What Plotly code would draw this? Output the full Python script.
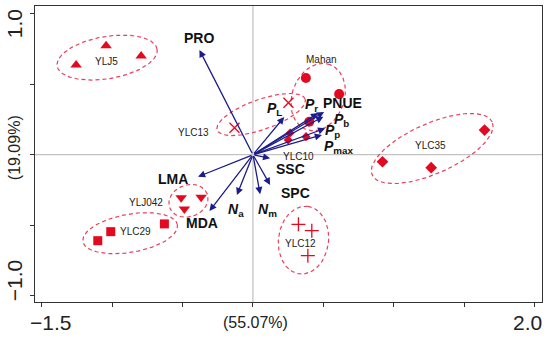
import numpy as np
import plotly.graph_objects as go

# ---------------- data ----------------
# sample scores (PC1, PC2)
ylj5_x = [-1.256, -1.043, -0.794]
ylj5_y = [0.636, 0.773, 0.700]
ylc13_x = [-0.131, 0.252]
ylc13_y = [0.191, 0.369]
mahan_x = [0.376, 0.612, 0.400]
mahan_y = [0.544, 0.430, 0.234]
ylc10_x = [0.250, 0.264, 0.377]
ylc10_y = [0.104, 0.154, 0.128]
ylc35_x = [1.645, 0.920, 1.266]
ylc35_y = [0.175, -0.050, -0.092]
ylc12_x = [0.323, 0.418, 0.390]
ylc12_y = [-0.494, -0.539, -0.716]
ylj042_x = [-0.510, -0.368, -0.487]
ylj042_y = [-0.305, -0.302, -0.385]
ylc29_x = [-1.102, -1.010, -0.629]
ylc29_y = [-0.610, -0.546, -0.491]

# group labels
group_names = ["YLJ5", "YLC13", "Mahan", "YLC10", "YLC35", "YLC12", "YLJ042", "YLC29"]
group_lx = [-1.043, -0.425, 0.490, 0.323, 1.259, 0.335, -0.761, -0.837]
group_ly = [0.660, 0.156, 0.677, -0.012, 0.064, -0.628, -0.338, -0.546]

# group ellipses (centre, semi-axes, angle in degrees)
ell_cx = [-1.036, 0.058, 0.463, 1.273, 0.359, -0.458, -0.872]
ell_cy = [0.689, 0.285, 0.409, 0.044, -0.606, -0.327, -0.557]
ell_a = [0.360, 0.331, 0.245, 0.466, 0.241, 0.142, 0.341]
ell_b = [0.150, 0.107, 0.185, 0.178, 0.178, 0.112, 0.135]
ell_ang = [9.6, 19.4, 70.0, 23.8, 83.0, 20.0, 10.0]

# variable loadings (arrow tips)
var_names = ["PRO", "P_L", "P_r", "PNUE", "P_b", "P_p", "P_max",
             "SSC", "SPC", "N_m", "N_a", "MDA", "LMA"]
var_x = [-0.380, 0.222, 0.463, 0.505, 0.500, 0.513, 0.490,
         0.122, 0.122, 0.051, -0.114, -0.309, -0.390]
var_y = [0.743, 0.267, 0.295, 0.303, 0.270, 0.187, 0.140,
         -0.026, -0.215, -0.280, -0.286, -0.400, -0.156]
var_text = ["<b>PRO</b>", "<b><i>P</i></b><sub><b>L</b></sub>",
            "<b><i>P</i></b><sub><b>r</b></sub>", "<b>PNUE</b>",
            "<b><i>P</i></b><sub><b>b</b></sub>", "<b><i>P</i></b><sub><b>p</b></sub>",
            "<b><i>P</i></b><sub><b>max</b></sub>", "<b>SSC</b>", "<b>SPC</b>",
            "<b><i>N</i></b><sub><b>m</b></sub>", "<b><i>N</i></b><sub><b>a</b></sub>",
            "<b>MDA</b>", "<b>LMA</b>"]
var_lx = [-0.380, 0.150, 0.418, 0.635, 0.630, 0.566, 0.612,
          0.264, 0.300, 0.105, -0.120, -0.363, -0.565]
var_ly = [0.826, 0.325, 0.355, 0.365, 0.245, 0.168, 0.055,
          -0.104, -0.274, -0.392, -0.392, -0.482, -0.172]

x_tick_vals = [-1.5, -1.0, -0.5, 0.0, 0.5, 1.0, 1.5, 2.0]
y_tick_vals = [-1.0, -0.5, 0.0, 0.5, 1.0]
x_title = "(55.07%)"
y_title = "(19.09%)"

# ---------------- styling ----------------
RED = "#e3091f"
ELL = "#e8405c"
NAVY = "#1c1c8c"
FONT = "Liberation Sans, Arial, sans-serif"

fig = go.Figure()

# reference lines
fig.add_shape(type="line", x0=0, x1=0, y0=0, y1=1, xref="x", yref="paper",
              line=dict(color="#b4b4b4", width=1), layer="below")
fig.add_shape(type="line", x0=0, x1=1, y0=0, y1=0, xref="paper", yref="y",
              line=dict(color="#b4b4b4", width=1), layer="below")

# ellipses
t = np.linspace(0, 2 * np.pi, 120)
for cx, cy, a, b, ang in zip(ell_cx, ell_cy, ell_a, ell_b, ell_ang):
    th = np.deg2rad(ang)
    ex = cx + a * np.cos(t) * np.cos(th) - b * np.sin(t) * np.sin(th)
    ey = cy + a * np.cos(t) * np.sin(th) + b * np.sin(t) * np.cos(th)
    fig.add_trace(go.Scatter(x=ex, y=ey, mode="lines", hoverinfo="skip",
                             line=dict(color=ELL, width=1.2, dash="4px,3px")))

def pts(x, y, symbol, size, filled=True):
    if filled:
        m = dict(symbol=symbol, size=size, color=RED, line=dict(width=0))
    else:
        m = dict(symbol=symbol, size=size, color=RED, line=dict(color=RED, width=1.3))
    fig.add_trace(go.Scatter(x=x, y=y, mode="markers", marker=m))

pts(ylj5_x, ylj5_y, "triangle-up", 10)
pts(ylc13_x, ylc13_y, "x-thin-open", 10, filled=False)
pts(mahan_x, mahan_y, "circle", 10)
pts(ylc10_x, ylc10_y, "diamond", 7)
pts(ylc35_x, ylc35_y, "diamond", 9)
pts(ylc12_x, ylc12_y, "cross-thin-open", 10, filled=False)
pts(ylj042_x, ylj042_y, "triangle-down", 10)
pts(ylc29_x, ylc29_y, "square", 9)

anns = []
# arrows
for vx, vy in zip(var_x, var_y):
    anns.append(dict(x=vx, y=vy, ax=0, ay=0, xref="x", yref="y", axref="x", ayref="y",
                     text="", showarrow=True, arrowhead=2, arrowsize=1.1,
                     arrowwidth=1.3, arrowcolor=NAVY, standoff=0, startstandoff=0))
# variable labels
for txt, lx, ly in zip(var_text, var_lx, var_ly):
    anns.append(dict(x=lx, y=ly, xref="x", yref="y", text=txt, showarrow=False,
                     font=dict(family=FONT, size=14, color="#111111")))
# group labels
for txt, lx, ly in zip(group_names, group_lx, group_ly):
    anns.append(dict(x=lx, y=ly, xref="x", yref="y", text=txt, showarrow=False,
                     font=dict(family=FONT, size=10, color="#222222")))

# tick labels (only the extremes are labelled)
anns.append(dict(x=x_tick_vals[0], y=0, xref="x", yref="paper", text="\u22121.5",
                 showarrow=False, xanchor="center", yanchor="top", xshift=9, yshift=-7,
                 font=dict(family=FONT, size=21, color="#222")))
anns.append(dict(x=x_tick_vals[-1], y=0, xref="x", yref="paper", text="2.0",
                 showarrow=False, xanchor="center", yanchor="top", xshift=-7, yshift=-7,
                 font=dict(family=FONT, size=21, color="#222")))
anns.append(dict(x=0, y=y_tick_vals[-1], xref="paper", yref="y", text="1.0", textangle=-90,
                 showarrow=False, xanchor="right", yanchor="middle", xshift=-7, yshift=-10,
                 font=dict(family=FONT, size=21, color="#222")))
anns.append(dict(x=0, y=y_tick_vals[0], xref="paper", yref="y", text="\u22121.0", textangle=-90,
                 showarrow=False, xanchor="right", yanchor="middle", xshift=-7, yshift=15,
                 font=dict(family=FONT, size=21, color="#222")))
# axis titles
anns.append(dict(x=0, y=0, xref="x", yref="paper", text=x_title, showarrow=False,
                 xanchor="center", yanchor="top", xshift=3, yshift=-10,
                 font=dict(family=FONT, size=16, color="#222")))
anns.append(dict(x=0, y=0, xref="paper", yref="y", text=y_title, textangle=-90,
                 showarrow=False, xanchor="right", yanchor="middle", xshift=-10, yshift=7,
                 font=dict(family=FONT, size=16, color="#222")))

fig.update_layout(
    width=550, height=340,
    margin=dict(l=35, r=8, t=6, b=38),
    paper_bgcolor="white", plot_bgcolor="white",
    showlegend=False,
    annotations=anns,
    xaxis=dict(range=[-1.548, 2.053], tickvals=x_tick_vals, showticklabels=False,
               ticks="outside", ticklen=4, tickcolor="#333", showgrid=False,
               zeroline=False, showline=True, linecolor="#333", linewidth=1.3,
               mirror=True),
    yaxis=dict(range=[-1.045, 1.055], tickvals=y_tick_vals, showticklabels=False,
               ticks="outside", ticklen=4, tickcolor="#333", showgrid=False,
               zeroline=False, showline=True, linecolor="#333", linewidth=1.3,
               mirror=True),
)

fig.write_html("out.html", config={"displayModeBar": False},
               post_script="document.body.style.margin='0';")
